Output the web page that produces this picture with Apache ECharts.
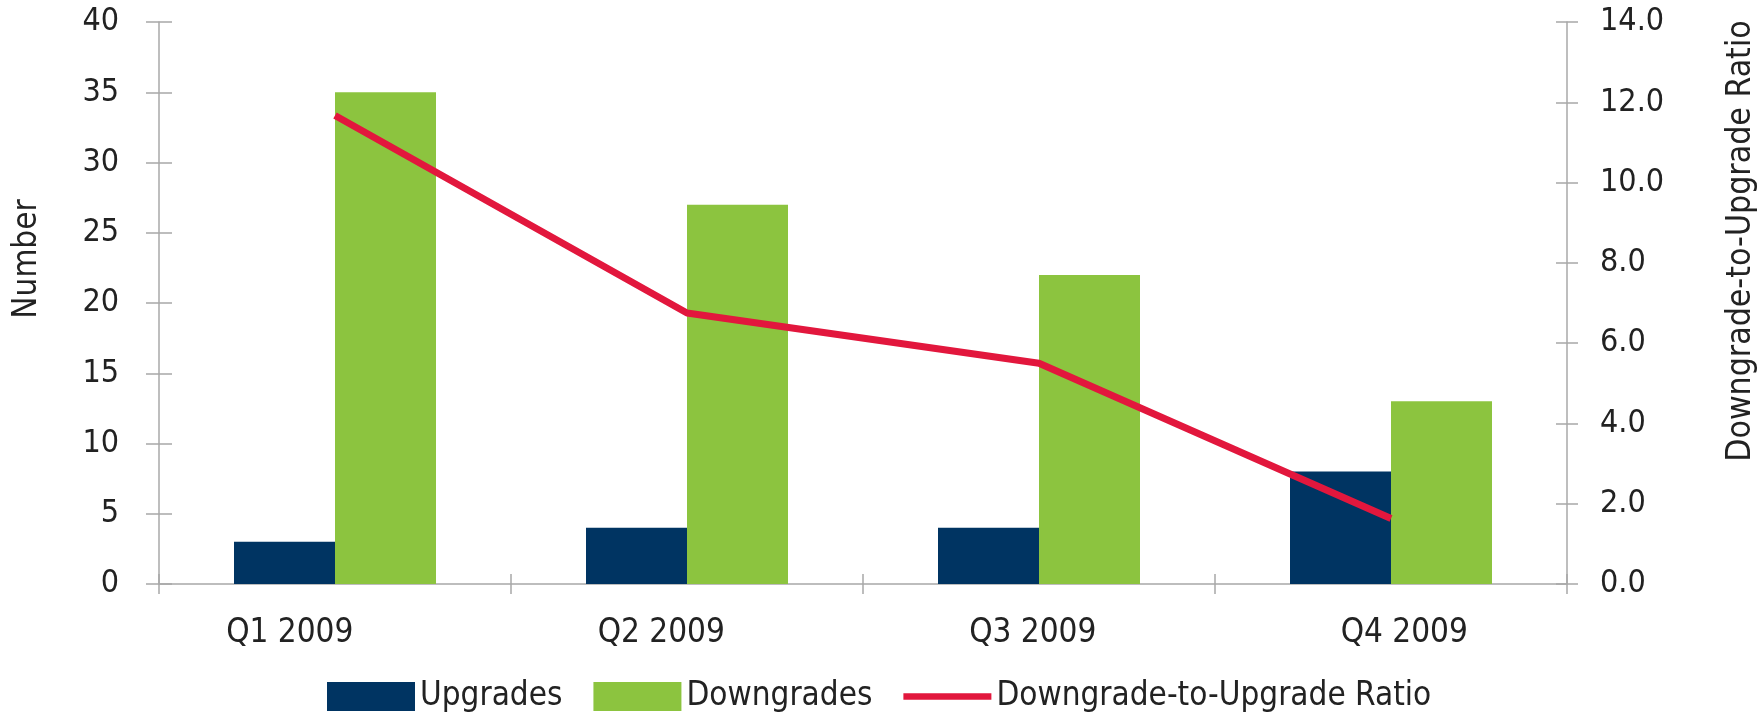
<!DOCTYPE html>
<html>
<head>
<meta charset="utf-8">
<script src="https://cdn.jsdelivr.net/npm/echarts@6/dist/echarts.min.js"></script>
<style>
  html, body { margin: 0; padding: 0; background: #ffffff; }
  #chart { width: 1762px; height: 713px; }
</style>
</head>
<body>
<div id="chart"></div>
<script>
// Rating actions per quarter
const quarters = ['Q1 2009', 'Q2 2009', 'Q3 2009', 'Q4 2009'];
const upgrades = [3, 4, 4, 8];
const downgrades = [35, 27, 22, 13];
const ratio = [11.67, 6.75, 5.5, 1.63];

const countTicks = { min: 0, max: 40, interval: 5 };
const ratioTicks = { min: 0, max: 14, interval: 2 };

const FONT = '"DejaVu Sans Condensed", "DejaVu Sans", sans-serif';
const TEXT = '#222222';
const AXIS = '#a8a8a8';
const BLUE = '#003462';
const GREEN = '#8cc43f';
const RED = '#e2173d';

const chart = echarts.init(document.getElementById('chart'), null, { renderer: 'canvas' });

const plotRect = { left: 159, right: 195, top: 22, bottom: 129 };
const tickLine = { color: AXIS, width: 1.5 };

chart.setOption({
  animation: false,
  backgroundColor: '#ffffff',
  textStyle: { fontFamily: FONT, color: TEXT },
  grid: [
    plotRect,
    // row for the quarter names, spaced slightly wider than the plot
    { left: 104, right: 172, top: 22, bottom: 129 },
    // same rectangle as the plot: carries the inner half of the cross ticks
    plotRect
  ],
  legend: {
    left: 327,
    top: 680,
    padding: 0,
    itemWidth: 88,
    itemHeight: 29,
    itemGap: 31,
    textStyle: { fontFamily: FONT, fontSize: 33, color: TEXT },
    itemStyle: { borderWidth: 0 },
    data: [
      { name: 'Upgrades', icon: 'rect' },
      { name: 'Downgrades', icon: 'rect' },
      { name: 'Downgrade-to-Upgrade Ratio', icon: 'path://M0,0H92V7H0Z', itemStyle: { borderWidth: 0 } }
    ]
  },
  xAxis: [
    {
      type: 'category', gridIndex: 0, data: quarters, boundaryGap: true,
      axisLine: { show: true, lineStyle: tickLine },
      axisTick: { show: true, length: 10, lineStyle: tickLine },
      axisLabel: { show: false }
    },
    {
      type: 'category', gridIndex: 1, data: quarters, boundaryGap: true,
      axisLine: { show: false },
      axisTick: { show: false },
      axisLabel: { show: true, margin: 33, fontSize: 33, fontFamily: FONT, color: TEXT }
    },
    {
      type: 'category', gridIndex: 2, data: quarters, boundaryGap: true, position: 'bottom',
      axisLine: { show: false },
      axisTick: { show: true, inside: true, length: 10, lineStyle: tickLine },
      axisLabel: { show: false }
    }
  ],
  yAxis: [
    {
      type: 'value', gridIndex: 0, position: 'left', ...countTicks,
      splitLine: { show: false },
      axisLine: { show: true, lineStyle: tickLine },
      axisTick: { show: true, length: 13, lineStyle: tickLine },
      axisLabel: { margin: 40, fontSize: 32, fontFamily: FONT, color: TEXT }
    },
    {
      type: 'value', gridIndex: 0, position: 'right', ...ratioTicks,
      splitLine: { show: false },
      axisLine: { show: true, lineStyle: tickLine },
      axisTick: { show: true, length: 11, lineStyle: tickLine },
      axisLabel: { margin: 33, fontSize: 32, fontFamily: FONT, color: TEXT,
                   formatter: v => v.toFixed(1) }
    },
    {
      type: 'value', gridIndex: 1, show: false, min: 0, max: 1
    },
    {
      type: 'value', gridIndex: 2, position: 'left', ...countTicks,
      splitLine: { show: false }, axisLine: { show: false },
      axisTick: { show: true, inside: true, length: 13, lineStyle: tickLine },
      axisLabel: { show: false }
    },
    {
      type: 'value', gridIndex: 2, position: 'right', ...ratioTicks,
      splitLine: { show: false }, axisLine: { show: false },
      axisTick: { show: true, inside: true, length: 11, lineStyle: tickLine },
      axisLabel: { show: false }
    }
  ],
  graphic: [
    {
      type: 'text', x: 27, y: 259, rotation: Math.PI / 2,
      style: { text: 'Number', fontFamily: FONT, fontSize: 33, fill: TEXT,
               align: 'center', verticalAlign: 'middle' }
    },
    {
      type: 'text', x: 1741, y: 241, rotation: Math.PI / 2,
      style: { text: 'Downgrade-to-Upgrade Ratio', fontFamily: FONT, fontSize: 33.5, fill: TEXT,
               align: 'center', verticalAlign: 'middle' }
    }
  ],
  series: [
    {
      name: 'Upgrades', type: 'bar', xAxisIndex: 0, yAxisIndex: 0,
      data: upgrades, barWidth: 101, barGap: '0%',
      itemStyle: { color: BLUE }
    },
    {
      name: 'Downgrades', type: 'bar', xAxisIndex: 0, yAxisIndex: 0,
      data: downgrades, barWidth: 101, barGap: '0%',
      itemStyle: { color: GREEN }
    },
    {
      name: 'Downgrade-to-Upgrade Ratio', type: 'line', xAxisIndex: 0, yAxisIndex: 1,
      data: ratio, showSymbol: false, symbol: 'none', z: 5,
      lineStyle: { color: RED, width: 7 },
      itemStyle: { color: RED }
    }
  ]
});
</script>
</body>
</html>
